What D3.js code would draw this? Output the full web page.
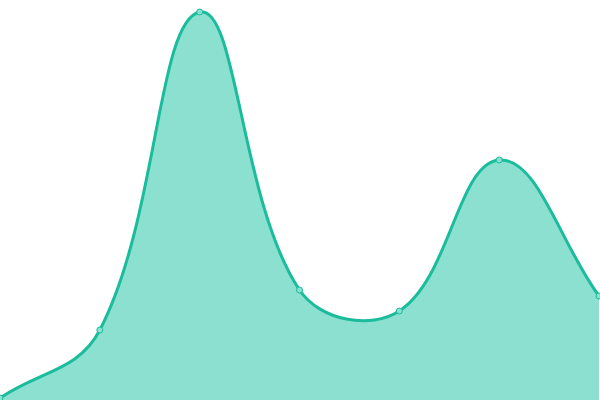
<!DOCTYPE html>
<html>
<head>
<meta charset="utf-8">
<script src="https://cdn.jsdelivr.net/npm/d3@7"></script>
<style>
  html, body { margin: 0; padding: 0; background: #fff; }
  svg { display: block; }
</style>
</head>
<body>
<svg id="chart" width="600" height="400"></svg>
<script>
// data
const categories = [0, 1, 2, 3, 4, 5, 6];
const values = [2, 70, 388, 110, 89, 240, 104];

const width = 600;
const height = 400;
const tension = 0.4;

const svg = d3.select('#chart');

const x = d3.scaleLinear()
  .domain(d3.extent(categories))
  .range([0, 599]);

const y = d3.scaleLinear()
  .domain([0, 400])
  .range([height, 0]);

const data = categories.map((c, i) => ({ c: c, v: values[i] }));

// distance-weighted spline (control points along prev->next, ends use the point itself)
function SplineCurve(context) {
  this._context = context;
}
SplineCurve.prototype = {
  areaStart() { this._line = 0; },
  areaEnd() { this._line = NaN; },
  lineStart() { this._pts = []; },
  point(px, py) { this._pts.push([+px, +py]); },
  lineEnd() {
    const pts = this._pts;
    const n = pts.length;
    const ctx = this._context;
    const clampX = v => Math.max(0, Math.min(width, v));
    const clampY = v => Math.max(0, Math.min(height, v));
    const cps = pts.map((p, i) => {
      const prev = pts[i - 1] || p;
      const next = pts[i + 1] || p;
      const d01 = Math.hypot(p[0] - prev[0], p[1] - prev[1]);
      const d12 = Math.hypot(next[0] - p[0], next[1] - p[1]);
      const s01 = d01 + d12 ? d01 / (d01 + d12) : 0;
      const s12 = d01 + d12 ? d12 / (d01 + d12) : 0;
      const fa = tension * s01;
      const fb = tension * s12;
      return {
        inX: clampX(p[0] - fa * (next[0] - prev[0])),
        inY: clampY(p[1] - fa * (next[1] - prev[1])),
        outX: clampX(p[0] + fb * (next[0] - prev[0])),
        outY: clampY(p[1] + fb * (next[1] - prev[1]))
      };
    });
    pts.forEach((p, i) => {
      if (i === 0) {
        if (this._line) ctx.lineTo(p[0], p[1]);
        else ctx.moveTo(p[0], p[1]);
      } else {
        ctx.bezierCurveTo(cps[i - 1].outX, cps[i - 1].outY, cps[i].inX, cps[i].inY, p[0], p[1]);
      }
    });
    if (this._line || (this._line !== 0 && n === 1)) ctx.closePath();
    this._line = 1 - this._line;
  }
};
const curve = context => new SplineCurve(context);

const area = d3.area()
  .x(d => x(d.c))
  .y0(height)
  .y1(d => y(d.v))
  .curve(curve);

const line = d3.line()
  .x(d => x(d.c))
  .y(d => y(d.v))
  .curve(curve);

svg.append('path')
  .datum(data)
  .attr('d', area)
  .attr('fill', '#8be0cf');

svg.append('path')
  .datum(data)
  .attr('d', line)
  .attr('fill', 'none')
  .attr('stroke', '#1abc9c')
  .attr('stroke-width', 3);

// point markers
svg.selectAll('.dot')
  .data(data)
  .enter()
  .append('circle')
  .attr('class', 'dot')
  .attr('cx', d => x(d.c))
  .attr('cy', d => y(d.v))
  .attr('r', 3)
  .attr('fill', '#8be0cf')
  .attr('stroke', '#1abc9c')
  .attr('stroke-width', 1);
</script>
</body>
</html>
